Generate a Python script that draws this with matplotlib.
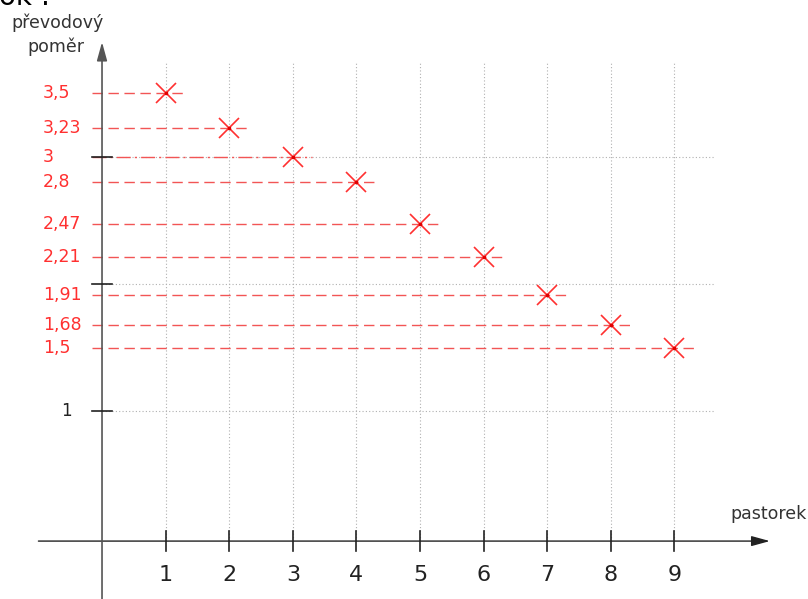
import matplotlib
matplotlib.use('Agg')
import matplotlib.pyplot as plt

plt.rcParams['font.family'] = ['DejaVu Sans']

# data
pastorek = [1, 2, 3, 4, 5, 6, 7, 8, 9]
pomer = [3.5, 3.23, 3.0, 2.8, 2.47, 2.21, 1.91, 1.68, 1.5]
pomer_labels = ['3,5', '3,23', '3', '2,8', '2,47', '2,21', '1,91', '1,68', '1,5']
y_ticks = [1, 2, 3]
x_tick_labels = ['1', '2', '3', '4', '5', '6', '7', '8', '9']

red = '#ff3030'
red_line = '#f25555'
grid_col = '#b0b0b0'
x_axis_y = -0.024

fig = plt.figure(figsize=(8.08, 5.99), dpi=100)
ax = fig.add_axes([0, 0, 1, 1])
ax.set_xlim(-1.604, 11.10)
ax.set_ylim(-0.480, 4.236)
ax.axis('off')

# grid
for x in pastorek:
    ax.plot([x, x], [x_axis_y, 3.75], color=grid_col, lw=0.8, ls=(0, (1, 2)), zorder=1)
for y in y_ticks:
    ax.plot([0, 9.64], [y, y], color=grid_col, lw=0.8, ls=(0, (1, 2)), zorder=1)

# axes with arrows
ax.annotate('', xy=(10.5, x_axis_y), xytext=(-1.0, x_axis_y),
            arrowprops=dict(arrowstyle='-|>,head_length=0.8,head_width=0.22',
                            color='#222222', lw=1, mutation_scale=14, shrinkA=0, shrinkB=0))
ax.annotate('', xy=(0, 3.905), xytext=(0, -0.48),
            arrowprops=dict(arrowstyle='-|>,head_length=0.8,head_width=0.22',
                            color='#555555', lw=1.2, mutation_scale=14, shrinkA=0, shrinkB=0))

# ticks
for x, lab in zip(pastorek, x_tick_labels):
    ax.plot([x, x], [x_axis_y - 0.08, x_axis_y + 0.08], color='#222222', lw=1.2, zorder=3)
    ax.text(x, -0.29, lab, ha='center', va='center', fontsize=16, color='#222222')
for y in y_ticks:
    ax.plot([-0.157, 0.157], [y, y], color='#222222', lw=1.2, zorder=3)
ax.text(-0.47, 1, '1', ha='right', va='center', fontsize=12, color='#222222')

# dashed guide lines + markers
for x, y, lab in zip(pastorek, pomer, pomer_labels):
    ls = (0, (10, 3, 1.5, 3)) if y == 3.0 else (0, (7.5, 4))
    ax.plot([-0.157, x + 0.3], [y, y], color=red_line, lw=1, ls=ls, zorder=2)
    ax.text(-0.928, y, lab, ha='left', va='center', fontsize=12.5, color=red)
ax.plot(pastorek, pomer, ls='none', marker='x', ms=15, mew=1.2, color=red, zorder=4)
ax.plot(pastorek, pomer, ls='none', marker='s', ms=2, color='#e00000', zorder=5)

# axis titles
ax.text(-1.43, 4.016, 'převodový', ha='left', va='baseline', fontsize=12.5, color='#333333')
ax.text(-1.17, 3.827, 'poměr', ha='left', va='baseline', fontsize=12.5, color='#333333')
ax.text(9.874, 0.15, 'pastorek', ha='left', va='baseline', fontsize=12.5, color='#333333')
ax.text(-1.62, 4.2, 'ok :', ha='left', va='baseline', fontsize=20, color='black')

fig.savefig('out.png', dpi=100)
